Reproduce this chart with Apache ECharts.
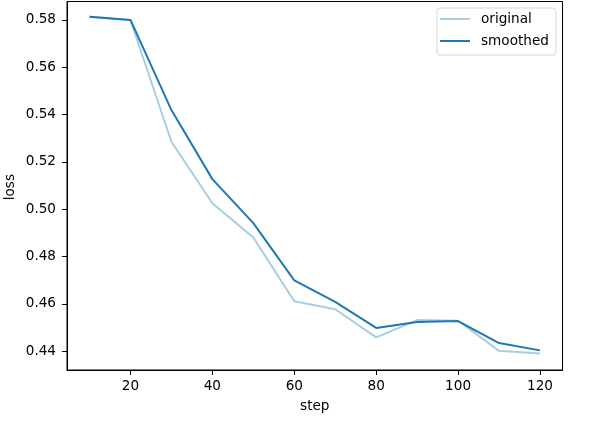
<!DOCTYPE html>
<html>
<head>
<meta charset="utf-8">
<script src="https://cdn.jsdelivr.net/npm/echarts@6/dist/echarts.min.js"></script>
<style>html,body{margin:0;padding:0;background:#fff}#c{width:598px;height:423px}</style>
</head>
<body>
<div id="c"></div>
<script>
const steps = [10, 20, 30, 40, 50, 60, 70, 80, 90, 100, 110, 120];
const original = [0.5814, 0.5800, 0.5285, 0.5025, 0.4880, 0.4611, 0.4577, 0.4458, 0.4531, 0.4528, 0.4401, 0.4390];
const smoothed = [0.5814, 0.5800, 0.5419, 0.5127, 0.4941, 0.4699, 0.4608, 0.4498, 0.4523, 0.4527, 0.4434, 0.4403];
const xTicks = [20, 40, 60, 80, 100, 120];
const yTicks = [0.44, 0.46, 0.48, 0.50, 0.52, 0.54, 0.56, 0.58];

const FONT = 'DejaVu Sans';
const FS = 13.6;
const chart = echarts.init(document.getElementById('c'), null, {renderer: 'canvas'});
const axisCommon = {
  axisLine: {show: true, lineStyle: {color: '#000', width: 1}},
  splitLine: {show: false},
  nameTextStyle: {fontFamily: FONT, fontSize: FS, color: '#000'}
};
chart.setOption({
  animation: false,
  backgroundColor: '#fff',
  grid: {left: 67, right: 35.5, top: 1.5, bottom: 53, containLabel: false, outerBoundsMode: 'none',
         show: true, borderColor: '#000', borderWidth: 1},
  legend: {
    orient: 'vertical', left: 437, top: 8,
    itemWidth: 30, itemHeight: 14, itemGap: 8,
    padding: [4, 7, 7, 3],
    borderColor: '#d6d6d6', borderWidth: 1, borderRadius: 3,
    backgroundColor: 'rgba(255,255,255,0.8)',
    textStyle: {fontFamily: FONT, fontSize: FS, color: '#000', padding: [0, 0, 0, 6]},
    data: [{name: 'original', icon: 'path://M0,0L30,0L30,2L0,2Z'}, {name: 'smoothed', icon: 'path://M0,0L30,0L30,2L0,2Z'}]
  },
  xAxis: Object.assign({}, axisCommon, {
    type: 'value', min: 4.5, max: 125.5,
    name: 'step', nameLocation: 'middle', nameGap: 29,
    axisTick: {show: true, inside: false, length: 5, customValues: xTicks, lineStyle: {color: '#000'}},
    axisLabel: {customValues: xTicks, fontFamily: FONT, fontSize: FS, color: '#000', margin: 9}
  }),
  yAxis: Object.assign({}, axisCommon, {
    type: 'value', min: 0.432, max: 0.5878,
    name: '', 
    axisTick: {show: true, inside: false, length: 5, customValues: yTicks, lineStyle: {color: '#000'}},
    axisLabel: {customValues: yTicks, fontFamily: FONT, fontSize: FS, color: '#000', margin: 11,
      formatter: v => v.toFixed(2)}
  }),
  graphic: [{
    type: 'text', left: 3, top: 174, rotation: Math.PI / 2,
    style: {text: 'loss', font: FS + 'px "DejaVu Sans"', fill: '#000'}
  }],
  series: [
    {name: 'original', type: 'line', data: steps.map((s, i) => [s, original[i]]),
     showSymbol: false, symbol: 'none', lineStyle: {color: '#a6cee3', width: 2}, itemStyle: {color: '#a6cee3'}, z: 2},
    {name: 'smoothed', type: 'line', data: steps.map((s, i) => [s, smoothed[i]]),
     showSymbol: false, symbol: 'none', lineStyle: {color: '#1f78b4', width: 2}, itemStyle: {color: '#1f78b4'}, z: 3}
  ]
});
</script>
</body>
</html>
